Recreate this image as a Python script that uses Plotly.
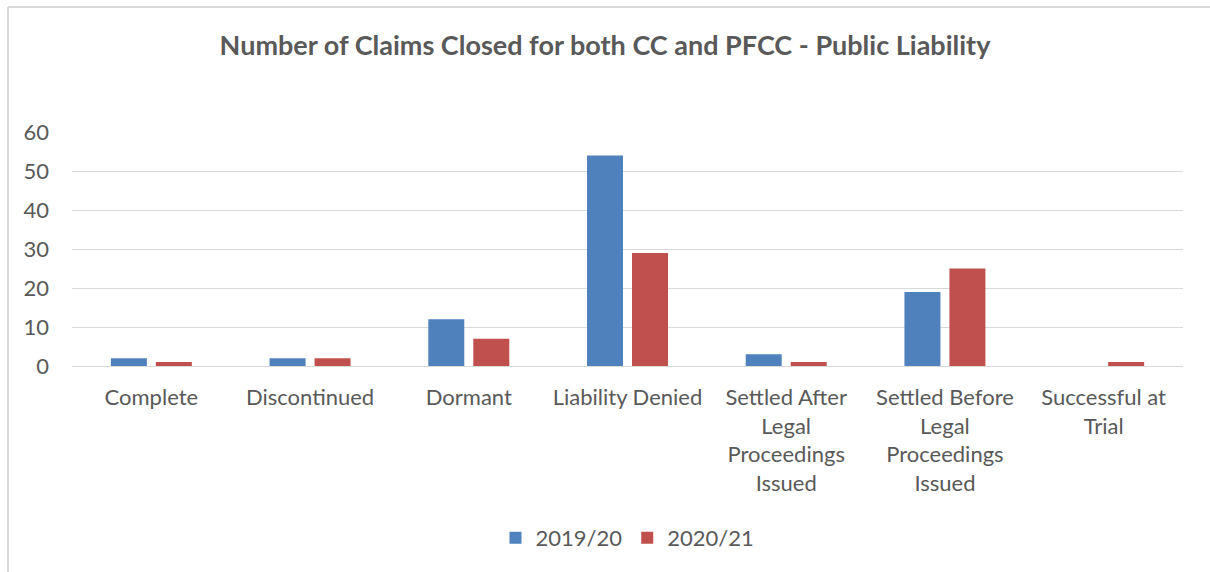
import plotly.graph_objects as go

categories = ["Complete", "Discontinued", "Dormant", "Liability Denied",
              "Settled After<br>Legal<br>Proceedings<br>Issued",
              "Settled Before<br>Legal<br>Proceedings<br>Issued",
              "Successful at<br>Trial"]
series_names = ["2019/20", "2020/21"]
values_2019 = [2, 2, 12, 54, 3, 19, 0]
values_2020 = [1, 2, 7, 29, 1, 25, 1]
y_ticks = [0, 10, 20, 30, 40, 50, 60]

FONT = "Lato"
TXT = "#595959"
GRID = "#D9D9D9"
FS = 22

fig = go.Figure()
fig.add_trace(go.Bar(x=categories, y=values_2019, name=series_names[0],
                     marker=dict(color="#4F81BD", line=dict(width=0))))
fig.add_trace(go.Bar(x=categories, y=values_2020, name=series_names[1],
                     marker=dict(color="#C0504D", line=dict(width=0))))

W, H = 1210, 572
L, R, T, B = 72, 27, 132, 206
pw = W - L - R
ph = H - T - B

def px_x(x):
    return (x - L) / pw

def px_y(y):
    return (H - B - y) / ph

fig.update_layout(
    width=W, height=H,
    margin=dict(l=L, r=R, t=T, b=B, autoexpand=False),
    paper_bgcolor="white", plot_bgcolor="white",
    barmode="group", bargap=0.433, bargroupgap=0.2,
    font=dict(family=FONT, color=TXT, size=FS),
    title=dict(text="<b>Number of Claims Closed for both CC and PFCC - Public Liability</b>",
               x=0.5, xanchor="center", y=1 - 46 / H, yanchor="middle",
               font=dict(family=FONT, size=27, color=TXT)),
    xaxis=dict(showgrid=False, showline=False, ticks="", tickfont=dict(size=FS, color=TXT),
               tickangle=0, ticklabelstandoff=16),
    yaxis=dict(range=[0, 60], tickvals=y_ticks, showgrid=True, gridcolor=GRID, gridwidth=1,
               zeroline=True, zerolinecolor=GRID, zerolinewidth=1, showline=False,
               ticks="", ticklabelstandoff=22, tickfont=dict(size=FS, color=TXT)),
    legend=dict(orientation="h", x=0.5, xanchor="center", y=px_y(538), yanchor="middle",
                font=dict(size=FS, color=TXT), itemwidth=30, traceorder="normal"),
    shapes=[
        dict(type="line", xref="paper", yref="paper", x0=px_x(8), x1=px_x(8),
             y0=px_y(7), y1=px_y(575), line=dict(color=GRID, width=2)),
        dict(type="line", xref="paper", yref="paper", x0=px_x(8), x1=px_x(1215),
             y0=px_y(7), y1=px_y(7), line=dict(color=GRID, width=2)),
    ],
)

fig.write_html("out.html")
